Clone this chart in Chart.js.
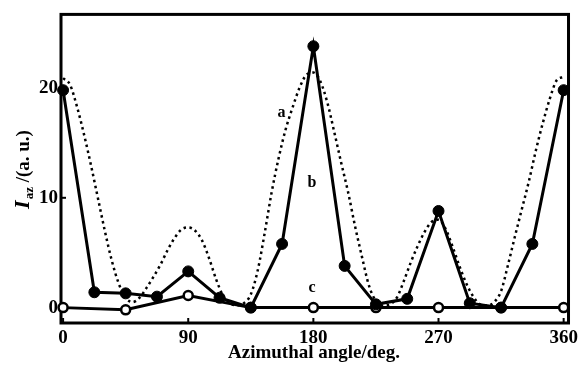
<!DOCTYPE html>
<html>
<head>
<meta charset="utf-8">
<script src="https://cdn.jsdelivr.net/npm/chart.js"></script>
<style>
body { margin: 0; background: #fff; }
</style>
</head>
<body>
<canvas id="chart" width="582" height="368"></canvas>
<script>
// axis ticks
let xTicks = [0, 90, 180, 270, 360];
let yTicks = [0, 10, 20];

// curve a (dotted, no markers)
let angleA = [0, 5, 10, 15, 20, 25, 30, 35, 40, 45, 50, 55, 60, 65, 70, 75, 80, 85, 90,
  95, 100, 105, 110, 115, 120, 125, 130, 135, 140, 145, 150, 155, 160, 165, 170, 175, 180,
  185, 190, 195, 200, 205, 210, 215, 220, 225, 230, 235, 240, 245, 250, 255, 260, 265, 270,
  275, 280, 285, 290, 295, 300, 305, 310, 315, 320, 325, 330, 335, 340, 345, 350, 355, 360];
let curveA = [20.9, 20.3, 18.3, 15.8, 13.0, 10.0, 7.0, 4.3, 2.2, 0.9, 0.5, 0.9, 1.8, 2.8, 3.9, 5.2, 6.3, 7.1, 7.3,
  7.0, 6.1, 4.5, 2.6, 1.1, 0.4, 0.2, 0.4, 1.2, 3.4, 6.8, 10.5, 13.6, 16.2, 18.2, 20.0, 21.2, 21.4,
  20.6, 18.7, 16.0, 13.2, 10.5, 7.4, 4.6, 2.0, 0.6, 0.2, 0.3, 0.9, 2.4, 4.1, 5.6, 6.9, 7.8, 8.0,
  7.2, 5.6, 3.8, 2.2, 1.0, 0.3, 0.2, 0.5, 1.5, 3.9, 6.5, 9.0, 11.5, 14.3, 16.8, 19.0, 20.7, 21.0];

// curve b (filled circles)
let angleB = [0, 22.5, 45, 67.5, 90, 112.5, 135, 157.5, 180, 202.5, 225, 247.5, 270, 292.5, 315, 337.5, 360];
let valuesB = [19.8, 1.4, 1.3, 1.0, 3.3, 0.9, 0.0, 5.8, 23.8, 3.8, 0.3, 0.8, 8.8, 0.4, 0.0, 5.8, 19.8];

// curve c (open circles)
let angleC = [0, 45, 90, 135, 180, 225, 270, 315, 360];
let valuesC = [0, -0.2, 1.1, 0, 0, 0, 0, 0, 0];

// letters next to the curves
let curveNames = ['a', 'b', 'c'];
let nameAngle = [157, 179, 179];
let nameValue = [17.7, 11.4, 1.8];

function toPoints(xs, ys) {
  return xs.map((x, i) => ({ x: x, y: ys[i] }));
}

let serif = '"Liberation Serif", "DejaVu Serif", serif';

let framePlugin = {
  id: 'framePlugin',
  beforeDatasetsDraw(chart) {
    let ctx = chart.ctx;
    let area = chart.chartArea;
    let xs = chart.scales.x;
    let ys = chart.scales.y;
    ctx.save();
    ctx.strokeStyle = '#000';
    ctx.lineWidth = 3;
    ctx.strokeRect(area.left, area.top, area.right - area.left, area.bottom - area.top);
    // short inward ticks
    ctx.lineWidth = 2;
    xTicks.forEach(v => {
      let px = xs.getPixelForValue(v);
      ctx.beginPath();
      ctx.moveTo(px, area.bottom);
      ctx.lineTo(px, area.bottom - 5);
      ctx.stroke();
    });
    yTicks.forEach(v => {
      let py = ys.getPixelForValue(v);
      ctx.beginPath();
      ctx.moveTo(area.left, py);
      ctx.lineTo(area.left + 5, py);
      ctx.stroke();
    });
    ctx.restore();
  },
  afterDraw(chart) {
    let ctx = chart.ctx;
    let xs = chart.scales.x;
    let ys = chart.scales.y;
    ctx.save();
    ctx.fillStyle = '#000';
    ctx.textAlign = 'center';
    ctx.textBaseline = 'middle';

    ctx.font = 'bold 16px ' + serif;
    curveNames.forEach((n, i) => {
      ctx.fillText(n, xs.getPixelForValue(nameAngle[i]), ys.getPixelForValue(nameValue[i]));
    });

    // x title
    ctx.font = 'bold 19px ' + serif;
    ctx.fillText('Azimuthal angle/deg.', 314, 353);

    // y title with subscript
    ctx.translate(22, 170);
    ctx.rotate(-Math.PI / 2);
    ctx.textAlign = 'left';
    ctx.textBaseline = 'alphabetic';
    let f1 = 'italic bold 22px ' + serif;
    let f2 = 'bold 13px ' + serif;
    let f3 = 'bold 19px ' + serif;
    ctx.font = f1; let w1 = ctx.measureText('I').width;
    ctx.font = f2; let w2 = ctx.measureText('az').width;
    ctx.font = f3; let w3 = ctx.measureText(' /(a. u.)').width;
    let x0 = -(w1 + w2 + w3) / 2;
    ctx.font = f1; ctx.fillText('I', x0, 7);
    ctx.font = f2; ctx.fillText('az', x0 + w1 + 1, 11);
    ctx.font = f3; ctx.fillText(' /(a. u.)', x0 + w1 + w2 + 1, 7);
    ctx.restore();
  }
};

let ctx = document.getElementById('chart');
let myChart = new Chart(ctx, {
  type: 'line',
  data: {
    datasets: [
      {
        label: 'b',
        data: toPoints(angleB, valuesB),
        borderColor: '#000',
        borderWidth: 3,
        pointRadius: 5.5,
        pointBackgroundColor: '#000',
        pointBorderColor: '#000',
        pointBorderWidth: 1,
        clip: false,
        order: 1
      },
      {
        label: 'c',
        data: toPoints(angleC, valuesC),
        borderColor: '#000',
        borderWidth: 3,
        pointRadius: 4.5,
        pointBackgroundColor: '#fff',
        pointBorderColor: '#000',
        pointBorderWidth: 2.5,
        clip: false,
        order: 2
      },
      {
        label: 'a',
        data: toPoints(angleA, curveA),
        borderColor: '#000',
        borderWidth: 2.5,
        borderDash: [2.5, 3.5],
        pointRadius: 0,
        cubicInterpolationMode: 'monotone',
        clip: false,
        order: 3
      }
    ]
  },
  options: {
    responsive: false,
    animation: false,
    layout: { padding: { top: 13, right: 11, left: 0, bottom: 0 } },
    plugins: {
      legend: { display: false },
      tooltip: { enabled: false }
    },
    scales: {
      x: {
        type: 'linear',
        min: -1.5,
        max: 363.5,
        grid: { display: false, drawTicks: false },
        border: { display: false },
        afterBuildTicks: s => { s.ticks = xTicks.map(v => ({ value: v })); },
        afterFit: s => { s.height = 45; },
        ticks: {
          color: '#000',
          padding: 4,
          maxRotation: 0,
          autoSkip: false,
          font: { family: serif, size: 19, weight: 'bold' }
        }
      },
      y: {
        type: 'linear',
        min: -1.4,
        max: 26.7,
        grid: { display: false, drawTicks: false },
        border: { display: false },
        afterBuildTicks: s => { s.ticks = yTicks.map(v => ({ value: v })); },
        afterFit: s => { s.width = 61; },
        ticks: {
          color: '#000',
          padding: 3,
          font: { family: serif, size: 19, weight: 'bold' }
        }
      }
    }
  },
  plugins: [framePlugin]
});
</script>
</body>
</html>
